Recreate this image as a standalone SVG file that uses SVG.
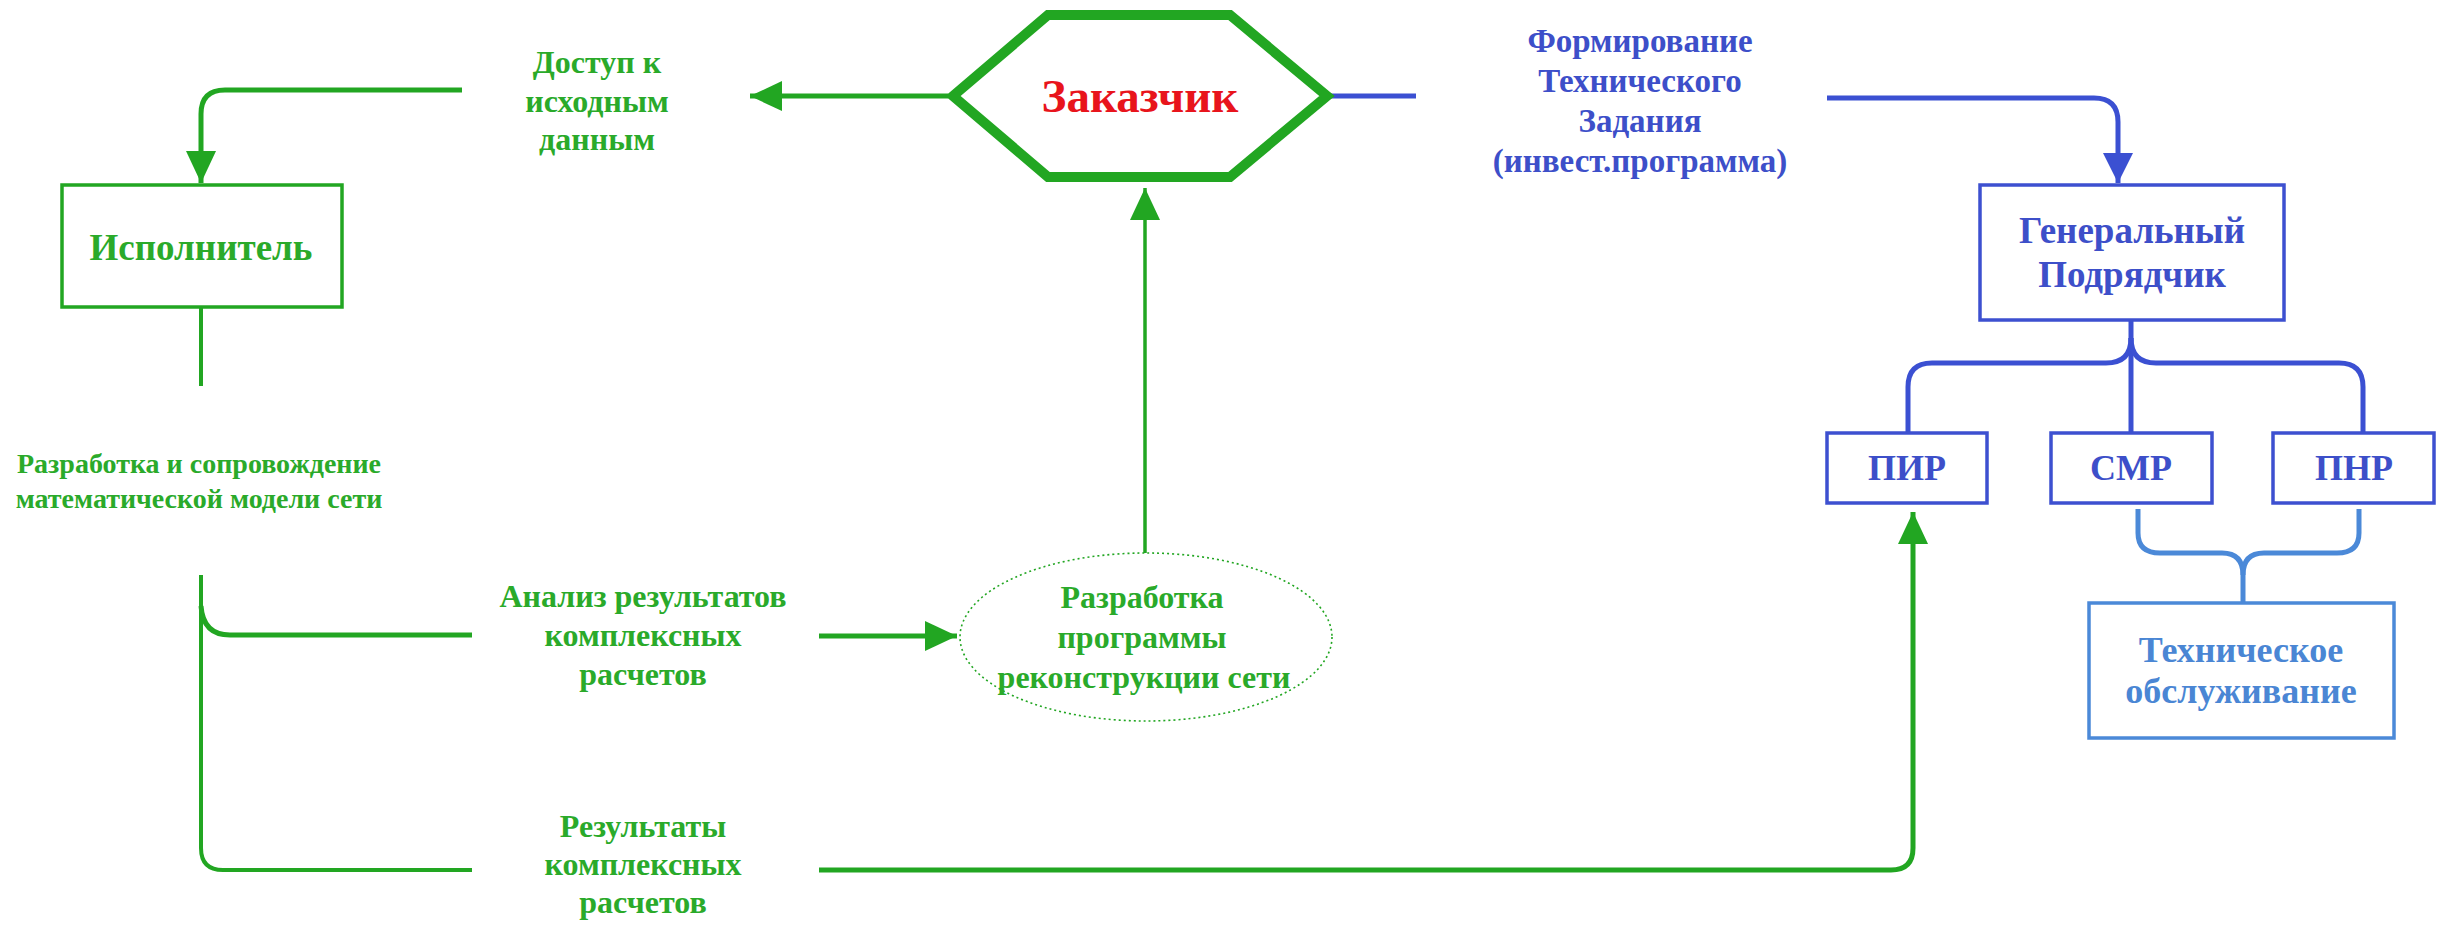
<svg xmlns="http://www.w3.org/2000/svg" width="2437" height="931" viewBox="0 0 2437 931">
<style>
text{font-family:"Liberation Serif","Times New Roman",serif;font-weight:bold;text-anchor:middle}
.g{fill:#2aaa2a}
.b{fill:#3d4fc9}
.lb{fill:#4a86d4}
.r{fill:#e8141c}
.gl{fill:none;stroke:#22a622;stroke-linecap:butt}
.bl{fill:none;stroke:#3b50d2;stroke-width:5}
.lbl{fill:none;stroke:#4b89d8;stroke-width:5}
.gbox{fill:#fff;stroke:#22a622;stroke-width:3.5}
.bbox{fill:#fff;stroke:#3d50d0;stroke-width:3.5}
.lbbox{fill:#fff;stroke:#4b89d8;stroke-width:3.5}
</style>
<defs>
<marker id="ag" markerUnits="userSpaceOnUse" markerWidth="32" markerHeight="30" refX="32" refY="15" orient="auto" viewBox="0 0 32 30"><path d="M0,0 L32,15 L0,30 z" fill="#22a622"/></marker>
<marker id="ab" markerUnits="userSpaceOnUse" markerWidth="30" markerHeight="30" refX="30" refY="15" orient="auto" viewBox="0 0 30 30"><path d="M0,0 L30,15 L0,30 z" fill="#3b50d2"/></marker>
</defs>
<rect width="2437" height="931" fill="#fff"/>
<g id="connectors">
<path class="gl" stroke-width="5" d="M462,90 L225,90 Q201,90 201,114 L201,183" marker-end="url(#ag)"/>
<path class="gl" stroke-width="5" d="M948,96 L750,96" marker-end="url(#ag)"/>
<path class="gl" stroke-width="4" d="M201,308 L201,386"/>
<path class="gl" stroke-width="4" d="M201,575 L201,848 Q201,870 223,870 L472,870"/>
<path class="gl" stroke-width="5" d="M201,606 Q203,635 230,635 L472,635"/>
<path class="gl" stroke-width="5" d="M819,636 L957,636" marker-end="url(#ag)"/>
<path class="gl" stroke-width="3.5" d="M1145,553 L1145,188" marker-end="url(#ag)"/>
<path class="gl" stroke-width="5" d="M819,870 L1891,870 Q1913,870 1913,848 L1913,512" marker-end="url(#ag)"/>
<path class="bl" d="M1330,96 L1416,96"/>
<path class="bl" d="M1827,98 L2094,98 Q2118,98 2118,122 L2118,183" marker-end="url(#ab)"/>
<path class="bl" d="M2131,320 L2131,433"/>
<path class="bl" d="M2131,338 Q2131,363 2106,363 L1932,363 Q1908,363 1908,387 L1908,433"/>
<path class="bl" d="M2131,338 Q2131,363 2156,363 L2339,363 Q2363,363 2363,387 L2363,433"/>
<path class="lbl" d="M2138,509 L2138,533 Q2138,553 2160,553 L2222,553 Q2243,553 2243,575 L2243,603"/>
<path class="lbl" d="M2359,509 L2359,533 Q2359,553 2337,553 L2264,553 Q2243,553 2243,575"/>
</g>
<g id="zakazchik">
<polygon points="953,96 1048,15 1230,15 1327,96 1230,177 1048,177" fill="#fff" stroke="#22a622" stroke-width="10" stroke-linejoin="miter"/>
<text class="r" x="1140" y="112" font-size="47">Заказчик</text>
</g>
<g id="dostup">
<text class="g" font-size="32"><tspan x="597" y="73">Доступ к</tspan><tspan x="597" y="112">исходным</tspan><tspan x="597" y="150">данным</tspan></text>
</g>
<g id="ispolnitel">
<rect class="gbox" x="62" y="185" width="280" height="122"/>
<text class="g" x="201" y="260" font-size="37">Исполнитель</text>
</g>
<g id="razrabotka-modeli">
<text class="g" font-size="28"><tspan x="199" y="473">Разработка и сопровождение</tspan><tspan x="199" y="508">математической модели сети</tspan></text>
</g>
<g id="analiz">
<text class="g" font-size="32"><tspan x="643" y="607">Анализ результатов</tspan><tspan x="643" y="646">комплексных</tspan><tspan x="643" y="685">расчетов</tspan></text>
</g>
<g id="rezultaty">
<text class="g" font-size="32"><tspan x="643" y="837">Результаты</tspan><tspan x="643" y="875">комплексных</tspan><tspan x="643" y="913">расчетов</tspan></text>
</g>
<g id="programma">
<ellipse cx="1146" cy="637" rx="186" ry="84" fill="#fff" stroke="#22a622" stroke-width="1.6" stroke-dasharray="2 3"/>
<text class="g" font-size="32"><tspan x="1142" y="608">Разработка</tspan><tspan x="1142" y="648">программы</tspan><tspan x="1144" y="688">реконструкции сети</tspan></text>
</g>
<g id="tz">
<text class="b" font-size="33"><tspan x="1640" y="52">Формирование</tspan><tspan x="1640" y="92">Технического</tspan><tspan x="1640" y="132">Задания</tspan><tspan x="1640" y="172">(инвест.программа)</tspan></text>
</g>
<g id="genpodryadchik">
<rect class="bbox" x="1980" y="185" width="304" height="135"/>
<text class="b" font-size="37"><tspan x="2132" y="243">Генеральный</tspan><tspan x="2132" y="287">Подрядчик</tspan></text>
</g>
<g id="pir">
<rect class="bbox" x="1827" y="433" width="160" height="70"/>
<text class="b" x="1907" y="480" font-size="36">ПИР</text>
</g>
<g id="smr">
<rect class="bbox" x="2051" y="433" width="161" height="70"/>
<text class="b" x="2131" y="480" font-size="36">СМР</text>
</g>
<g id="pnr">
<rect class="bbox" x="2273" y="433" width="161" height="70"/>
<text class="b" x="2354" y="480" font-size="36">ПНР</text>
</g>
<g id="to">
<rect class="lbbox" x="2089" y="603" width="305" height="135"/>
<text class="lb" font-size="36"><tspan x="2241" y="662">Техническое</tspan><tspan x="2241" y="703">обслуживание</tspan></text>
</g>
</svg>
